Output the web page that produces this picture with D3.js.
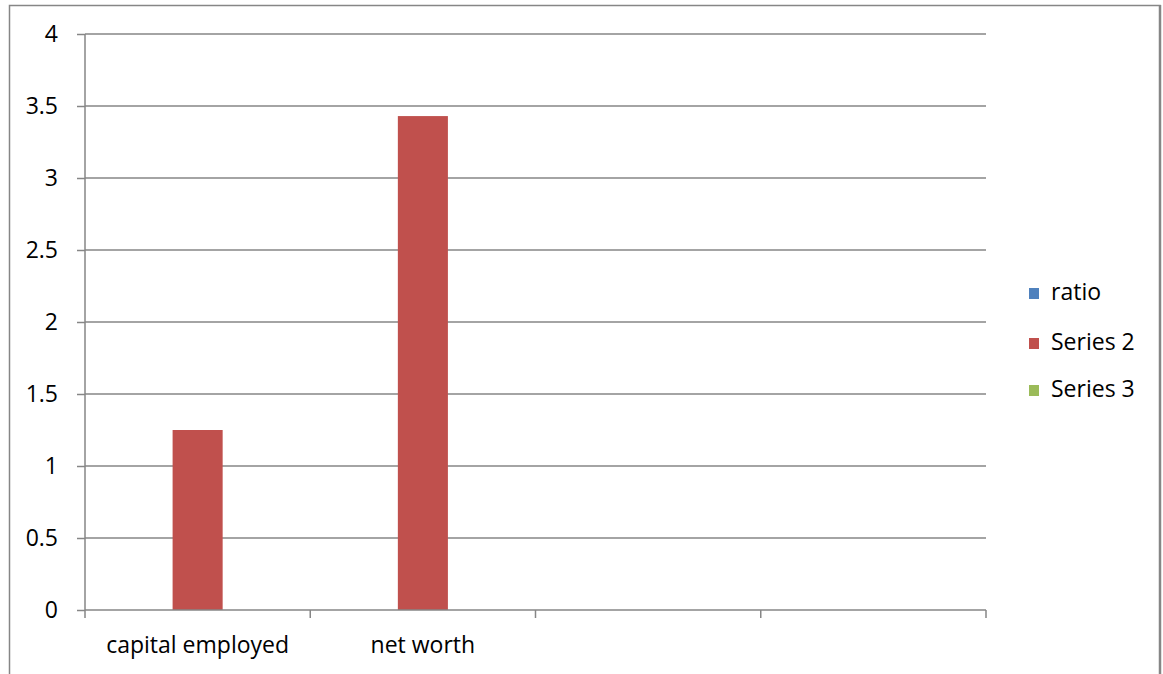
<!DOCTYPE html>
<html>
<head>
<meta charset="utf-8">
<script src="https://cdnjs.cloudflare.com/ajax/libs/d3/7.8.5/d3.min.js"></script>
<style>
  html, body { margin: 0; padding: 0; background: #fff; }
  svg { display: block; }
  text { font-family: "Open Sans", "Noto Sans", sans-serif; fill: #000; }
</style>
</head>
<body>
<svg id="chart" width="1163" height="674"></svg>
<script>
// Chart data
const categories = ["capital employed", "net worth", "", ""];
const seriesNames = ["ratio", "Series 2", "Series 3"];
const seriesColors = ["#4F81BD", "#C0504D", "#9BBB59"];
const ratioValues = [null, null, null, null];
const series2Values = [1.25, 3.43, null, null];
const series3Values = [null, null, null, null];
const yTicks = [0, 0.5, 1, 1.5, 2, 2.5, 3, 3.5, 4];

const seriesValues = [ratioValues, series2Values, series3Values];

const svg = d3.select("#chart");
const W = 1163, H = 674;
const plot = { left: 85, right: 986, top: 34, bottom: 610 };
const FONT = 23;

// Outer chart frame
svg.append("rect")
  .attr("x", 9.5).attr("y", 5.5)
  .attr("width", 1150.5).attr("height", 700)
  .attr("fill", "none").attr("stroke", "#868686").attr("stroke-width", 1.5);
svg.append("line")
  .attr("x1", 1160).attr("x2", 1160).attr("y1", 5).attr("y2", H)
  .attr("stroke", "#868686").attr("stroke-width", 2.5);

const x = d3.scaleBand()
  .domain(d3.range(categories.length))
  .range([plot.left, plot.right])
  .paddingInner(0).paddingOuter(0);

const y = d3.scaleLinear().domain([0, 4]).range([plot.bottom, plot.top]);

// Horizontal gridlines
svg.append("g")
  .selectAll("line")
  .data(yTicks.filter(d => d > 0))
  .join("line")
  .attr("x1", plot.left).attr("x2", plot.right)
  .attr("y1", d => y(d)).attr("y2", d => y(d))
  .attr("stroke", "#868686").attr("stroke-width", 1.5);

// Clustered bars: three slots per category with a 150% gap
const bandW = x.bandwidth();
const barW = bandW / 4.5;
const inner = d3.scaleBand()
  .domain(d3.range(seriesNames.length))
  .range([(bandW - barW * 3) / 2, (bandW + barW * 3) / 2]);

seriesValues.forEach((vals, si) => {
  svg.append("g")
    .selectAll("rect")
    .data(vals.map((v, i) => ({ v, i })).filter(d => d.v != null))
    .join("rect")
    .attr("x", d => x(d.i) + inner(si))
    .attr("width", inner.bandwidth())
    .attr("y", d => y(d.v))
    .attr("height", d => y(0) - y(d.v))
    .attr("fill", seriesColors[si]);
});

// Y axis
const yAxis = svg.append("g")
  .attr("transform", `translate(${plot.left},0)`)
  .call(d3.axisLeft(y).tickValues(yTicks).tickSize(8).tickPadding(19)
    .tickFormat(d => d3.format("")(d)));
yAxis.select(".domain").attr("stroke", "#868686").attr("stroke-width", 1.5)
  .attr("d", `M0,${plot.top}V${plot.bottom}`);
yAxis.selectAll(".tick line").attr("stroke", "#868686").attr("stroke-width", 1.5);
yAxis.selectAll(".tick text").attr("font-size", FONT)
  .attr("font-family", "'Open Sans', 'Noto Sans', sans-serif").attr("fill", "#000");

// X axis
const xAxis = svg.append("g")
  .attr("transform", `translate(0,${plot.bottom})`)
  .call(d3.axisBottom(x).tickSize(0).tickPadding(27)
    .tickFormat(i => categories[i]));
xAxis.select(".domain").attr("stroke", "#868686").attr("stroke-width", 1.5)
  .attr("d", `M${plot.left},0H${plot.right}`);
xAxis.selectAll(".tick text").attr("font-size", FONT)
  .attr("font-family", "'Open Sans', 'Noto Sans', sans-serif").attr("fill", "#000");

// Category boundary tick marks
svg.append("g")
  .selectAll("line")
  .data(d3.range(categories.length + 1))
  .join("line")
  .attr("x1", i => plot.left + i * bandW).attr("x2", i => plot.left + i * bandW)
  .attr("y1", plot.bottom).attr("y2", plot.bottom + 8)
  .attr("stroke", "#868686").attr("stroke-width", 1.5);

// Legend
const legend = svg.append("g").attr("transform", "translate(1029,0)");
const legendY = [292, 342, 389];
seriesNames.forEach((name, i) => {
  legend.append("rect")
    .attr("x", 0).attr("y", legendY[i] - 4)
    .attr("width", 10).attr("height", 11)
    .attr("fill", seriesColors[i]);
  legend.append("text")
    .attr("x", 22).attr("y", legendY[i])
    .attr("dy", "0.35em")
    .attr("font-size", FONT)
    .text(name);
});
</script>
</body>
</html>
